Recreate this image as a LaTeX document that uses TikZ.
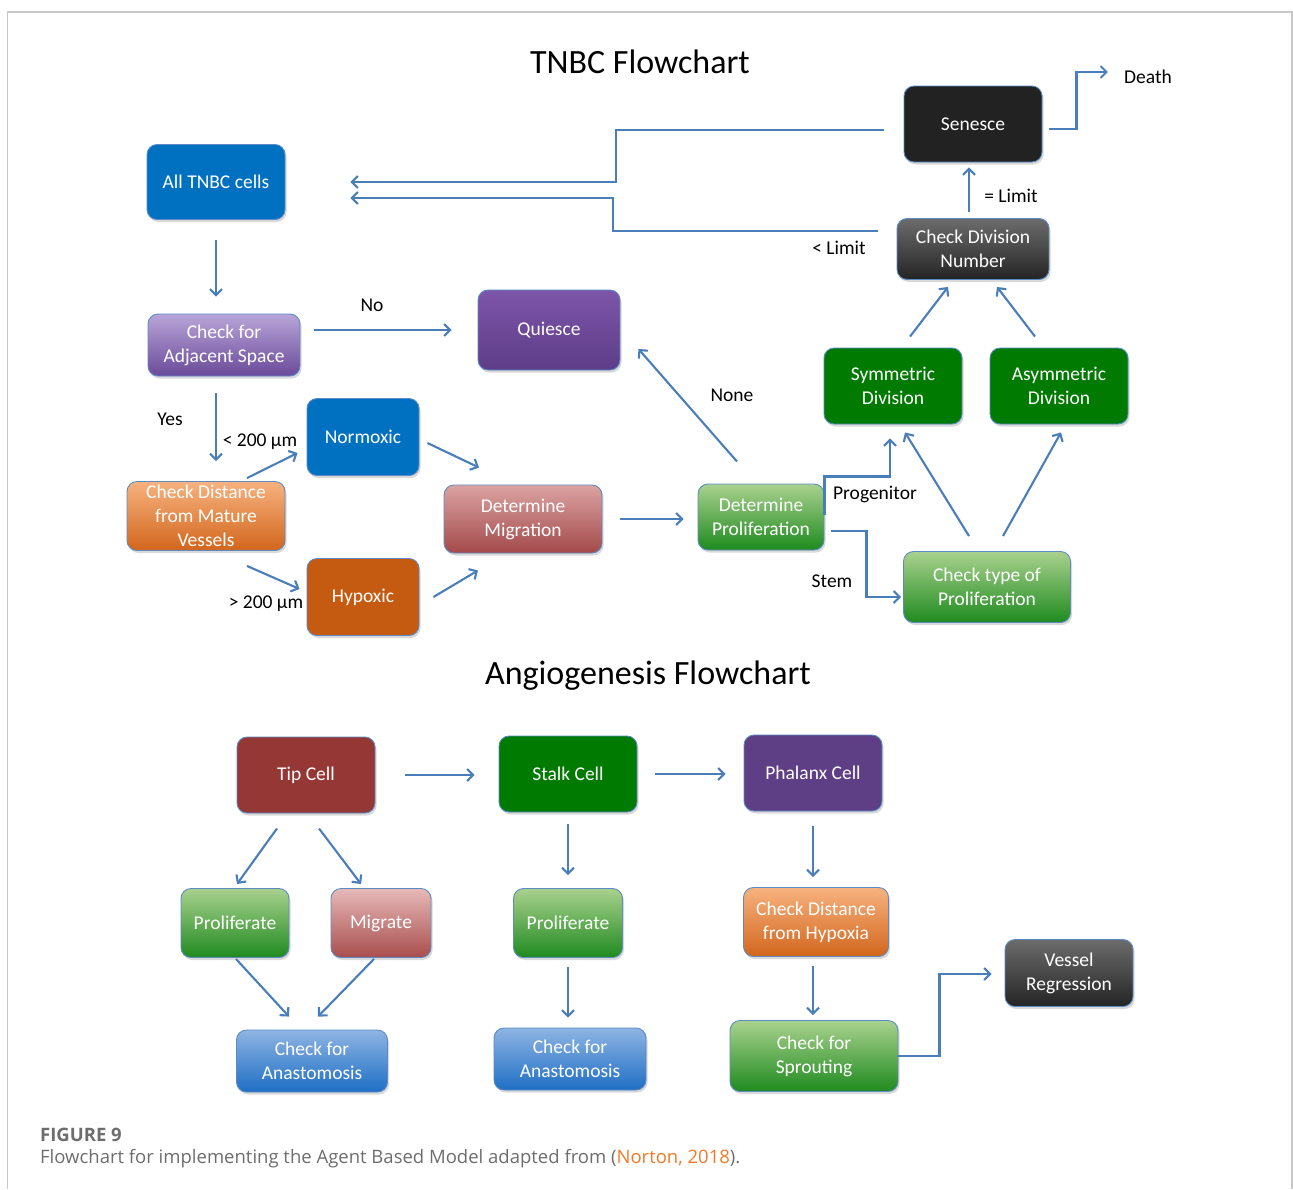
\documentclass[tikz,border=0pt]{standalone}
\usepackage{fontspec}
\setmainfont{Carlito}
\newfontfamily\capfont{Open Sans}
\usetikzlibrary{arrows.meta,calc,shadows}

\definecolor{linkblue}{HTML}{4A7EBB}
\definecolor{edgeblue}{HTML}{5B8BC6}
\definecolor{framegray}{HTML}{C8C8C8}
\definecolor{capgray}{HTML}{6D6D6D}
\definecolor{caporange}{HTML}{F07A28}
\definecolor{cellblue}{HTML}{0070C0}
\definecolor{hypoorange}{HTML}{C55A11}
\definecolor{divgreen}{HTML}{007A00}
\definecolor{tipred}{HTML}{953735}
\definecolor{phalanxpurple}{HTML}{5E3E85}
\definecolor{senesceblack}{HTML}{222222}
% gradient ends
\definecolor{lilactop}{HTML}{B9A5D8}
\definecolor{lilacbot}{HTML}{6A4A9A}
\definecolor{purpletop}{HTML}{7D55A9}
\definecolor{purplebot}{HTML}{5E3D88}
\definecolor{orangetop}{HTML}{F7B27F}
\definecolor{orangebot}{HTML}{D2661D}
\definecolor{rosetop}{HTML}{DBA3A2}
\definecolor{rosebot}{HTML}{A3494A}
\definecolor{pinktop}{HTML}{E6B9B8}
\definecolor{pinkbot}{HTML}{A84E4D}
\definecolor{greentop}{HTML}{A9D18E}
\definecolor{greenbot}{HTML}{1F8A1F}
\definecolor{skytop}{HTML}{8EB4E3}
\definecolor{skybot}{HTML}{1F6FC5}
\definecolor{greytop}{HTML}{6C6C6C}
\definecolor{greybot}{HTML}{242424}

\newcommand{\boxtxt}{\fontsize{19.5}{24}\selectfont}
\newcommand{\labeltxt}{\fontsize{19.5}{24}\selectfont}
\newcommand{\headtxt}{\fontsize{34}{40}\selectfont}

\begin{document}
\begin{tikzpicture}[x=1pt, y=-1pt,
	>={Straight Barb[length=6pt,width=12pt]},
	box/.style={rectangle, rounded corners=10pt, draw=edgeblue, line width=0.9pt,
		text=white, align=center, font=\boxtxt, inner sep=2pt,
		drop shadow={shadow xshift=1.5pt, shadow yshift=-2.5pt, opacity=0.3}},
	dims/.style 2 args={minimum width=#1pt, minimum height=#2pt},
	flatbox/.style={box, fill=#1},
	fadebox/.style={box, top color=#1top, bottom color=#1bot},
	arr/.style={->, draw=linkblue, line width=2.1pt},
	lbl/.style={font=\labeltxt, inner sep=1pt},
	heading/.style={font=\headtxt}]
	\useasboundingbox (0,0) rectangle (1293,1189);
	
	% frame
	\draw[framegray, line width=1.5pt] (7.5,1189) -- (7.5,12) -- (1292,12) -- (1292,1189);
	
	% TNBC boxes
	\node[heading] (tnbchead) at (640,62) {TNBC Flowchart};
	\node[flatbox=cellblue, dims={138}{75}] (tnbc) at (216,182) {All TNBC cells};
	\node[fadebox=lilac, dims={152}{62}] (adj) at (224,345) {Check for\\Adjacent Space};
	\node[fadebox=purple, dims={142}{80}] (quiesce) at (549,330) {Quiesce};
	\node[fadebox=orange, dims={158}{69}] (chkdist) at (206,516) {Check Distance\\from Mature\\Vessels};
	\node[flatbox=cellblue, dims={112}{77}] (normox) at (363,437) {Normoxic};
	\node[flatbox=hypoorange, dims={112}{77}] (hypox) at (363,597) {Hypoxic};
	\node[fadebox=rose, dims={158}{68}] (migr) at (523,519) {Determine\\Migration};
	\node[fadebox=green, dims={126}{66}] (prolif) at (761,517) {Determine\\Proliferation};
	\node[flatbox=divgreen, dims={138}{76}] (sym) at (893,386) {Symmetric\\Division};
	\node[flatbox=divgreen, dims={138}{76}] (asym) at (1059,386) {Asymmetric\\Division};
	\node[fadebox=green, dims={167}{71}] (chktype) at (987,587) {Check type of\\Proliferation};
	\node[fadebox=grey, dims={152}{61}] (chkdiv) at (973,249) {Check Division\\Number};
	\node[flatbox=senesceblack, dims={138}{76}] (senesce) at (973,124) {Senesce};
	
	% TNBC labels
	\node[lbl] (death) at (1148,77) {Death};
	\node[lbl] (eqlim) at (1011,196) {= Limit};
	\node[lbl] (ltlim) at (839,248) {< Limit};
	\node[lbl] (no) at (372,305) {No};
	\node[lbl] (yes) at (170,419) {Yes};
	\node[lbl] (near) at (260,442) {< 200 µm};
	\node[lbl] (far) at (266,604) {> 200 µm};
	\node[lbl] (none) at (732,395) {None};
	\node[lbl] (progen) at (875,494) {Progenitor};
	\node[lbl] (stem) at (832,581) {Stem};
	
	% TNBC arrows
	\draw[arr, shorten <=20pt, shorten >=17pt] (tnbc.south) -- (tnbc.south |- adj.north);
	\draw[arr, shorten <=14pt, shorten >=26pt] (adj.east |- quiesce.west) -- (quiesce.west);
	\draw[arr, shorten <=17pt, shorten >=20pt] (adj.south -| tnbc.south) -- (chkdist.north -| tnbc.south);
	\draw[arr] ($(chkdist.north)+(41,-3)$) -- ($(normox.west)+(-9,16)$);
	\draw[arr] ($(chkdist.south)+(41,15)$) -- ($(hypox.west)+(-7,-8)$);
	\draw[arr] ($(normox.east)+(8,6)$) -- ($(migr.north)+(-44,-17)$);
	\draw[arr] ($(hypox.east)+(14,0)$) -- ($(migr.south)+(-45,17)$);
	\draw[arr, shorten <=18pt, shorten >=14pt] (migr.east) -- (migr.east -| prolif.west);
	\draw[arr] ($(prolif.north)+(-24,-22)$) -- ($(quiesce.east)+(18,19)$);
	\draw[arr] ($(prolif.east)+(0,-2)$) |- ($(sym.south)+(-3,52)$) -- ($(sym.south)+(-3,14)$);
	\draw[arr] ($(prolif.east)+(7,14)$) -- ++(35,0) |- ($(chktype.west)+(-2,10)$);
	\draw[arr] ($(chktype.north)+(-18,-15)$) -- ($(sym.south)+(12,8)$);
	\draw[arr] ($(chktype.north)+(16,-15)$) -- ($(asym.south)+(2,8)$);
	\draw[arr] ($(sym.north)+(17,-11)$) -- ($(chkdiv.south)+(-25,7)$);
	\draw[arr] ($(asym.north)+(-24,-11)$) -- ($(chkdiv.south)+(24,7)$);
	\draw[arr] ($(chkdiv.north)+(-4,-6)$) -- ($(senesce.south)+(-4,5)$);
	\draw[arr] ($(senesce.east)+(7,5)$) -- ++(27,0) |- ($(death.west)+(-15,-5)$);
	\draw[arr] ($(senesce.west)+(-20,6)$) -- ++(-268,0) |- ($(tnbc.east)+(65,0)$);
	\draw[arr] ($(chkdiv.west)+(-19,-18)$) -- ++(-265,0) |- ($(tnbc.east)+(65,16)$);
	
	% Angiogenesis boxes
	\node[heading] (angiohead) at (648,676) {Angiogenesis Flowchart};
	\node[flatbox=tipred, dims={138}{76}] (tip) at (306,775) {Tip Cell};
	\node[flatbox=divgreen, dims={138}{76}] (stalk) at (568,774) {Stalk Cell};
	\node[flatbox=phalanxpurple, dims={138}{76}] (phalanx) at (813,773) {Phalanx Cell};
	\node[fadebox=green, dims={108}{69}] (prolA) at (235,923) {Proliferate};
	\node[fadebox=pink, dims={100}{69}] (migrate) at (381,923) {Migrate};
	\node[fadebox=sky, dims={151}{62}] (anastA) at (312,1061) {Check for\\Anastomosis};
	\node[fadebox=green, dims={109}{69}] (prolB) at (568,923) {Proliferate};
	\node[fadebox=sky, dims={152}{62}] (anastB) at (570,1059) {Check for\\Anastomosis};
	\node[fadebox=orange, dims={145}{69}] (chkhyp) at (816,922) {Check Distance\\from Hypoxia};
	\node[fadebox=green, dims={168}{71}] (sprout) at (814,1056) {Check for\\Sprouting};
	\node[fadebox=grey, dims={128}{67}] (vessel) at (1069,973) {Vessel\\Regression};
	
	% Angiogenesis arrows
	\draw[arr, shorten <=30pt, shorten >=24pt] (tip.east) -- (tip.east -| stalk.west);
	\draw[arr, shorten <=18pt, shorten >=18pt] (stalk.east) -- (stalk.east -| phalanx.west);
	\draw[arr] ($(tip.south)+(-29,15)$) -- ($(prolA.north)+(2,-4)$);
	\draw[arr] ($(tip.south)+(13,15)$) -- ($(migrate.north)+(-20,-4)$);
	\draw[arr] ($(prolA.south)+(1,1)$) -- ($(anastA.north)+(-23,-13)$);
	\draw[arr] ($(migrate.south)+(-7,1)$) -- ($(anastA.north)+(6,-13)$);
	\draw[arr, shorten <=12pt, shorten >=13pt] (stalk.south) -- (prolB.north);
	\draw[arr, shorten <=9pt, shorten >=10pt] (prolB.south) -- (prolB.south |- anastB.north);
	\draw[arr, shorten <=15pt, shorten >=10pt] (phalanx.south) -- (phalanx.south |- chkhyp.north);
	\draw[arr, shorten <=9pt, shorten >=5pt] (phalanx.south |- chkhyp.south) -- (phalanx.south |- sprout.north);
	\draw[arr] (sprout.east) -- ++(41,0) |- ($(vessel.west)+(-13,1)$);
	
	% caption
	\node[anchor=west, inner sep=0pt, text=capgray, font=\capfont\bfseries\fontsize{18.5}{22}\selectfont] (figno) at (40,1135) {FIGURE 9};
	\node[anchor=west, inner sep=0pt, text=capgray, font=\capfont\fontsize{18.5}{22}\selectfont] (figtext) at (40,1159)
		{Flowchart for implementing the Agent Based Model adapted from (\textcolor{caporange}{Norton, 2018}).};
\end{tikzpicture}
\end{document}
